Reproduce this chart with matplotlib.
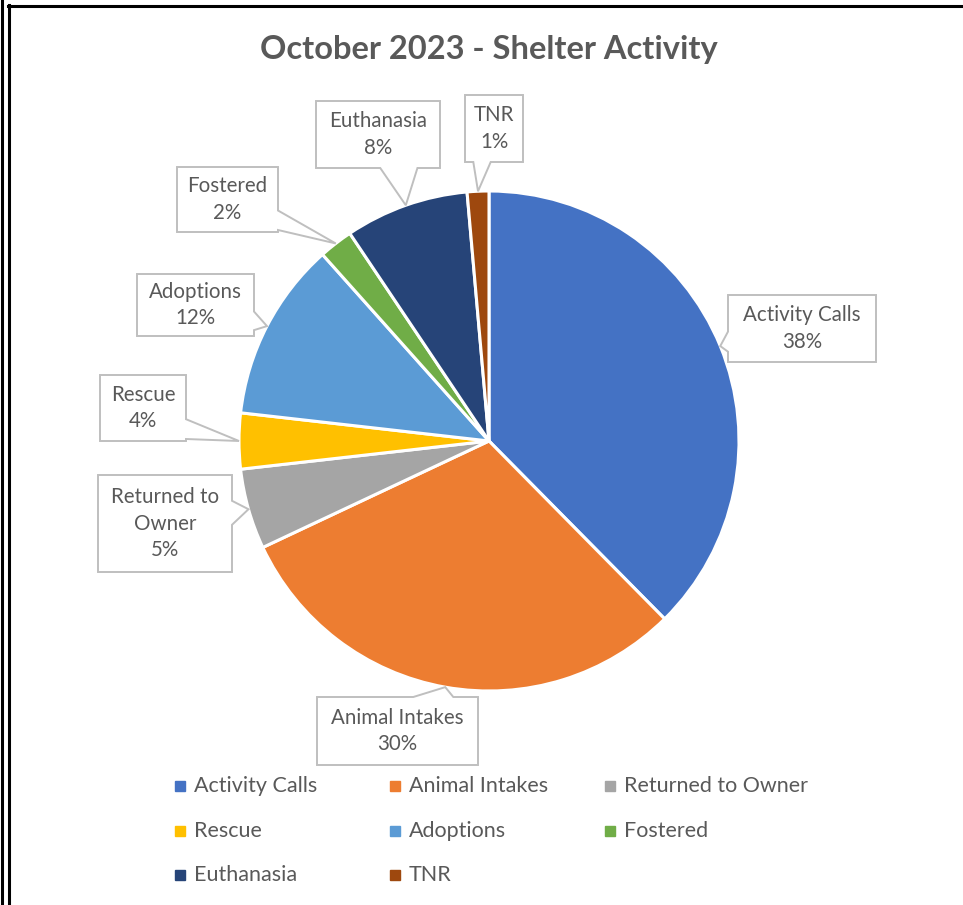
import numpy as np
import matplotlib
matplotlib.use('Agg')
import matplotlib.pyplot as plt
from matplotlib.patches import Polygon
from matplotlib.lines import Line2D

plt.rcParams['font.family'] = ['Lato', 'DejaVu Sans']

# data (share of activity, %)
categories = ['Activity Calls', 'Animal Intakes', 'Returned to Owner', 'Rescue',
              'Adoptions', 'Fostered', 'Euthanasia', 'TNR']
values = [37.6, 30.4, 5.2, 3.6, 11.6, 2.2, 8.0, 1.4]
colors = ['#4472C4', '#ED7D31', '#A5A5A5', '#FFC000',
          '#5B9BD5', '#70AD47', '#264478', '#9E480E']
label_text = ['Activity Calls', 'Animal Intakes', 'Returned to\nOwner', 'Rescue',
              'Adoptions', 'Fostered', 'Euthanasia', 'TNR']

# callout box centres and sizes (pixels, image coords: y down)
box_pos = [(802, 328.5), (397.5, 731), (165, 523.5), (143, 408),
           (195.5, 305), (227.5, 199.5), (378, 134.5), (494, 128.5)]
box_size = [(148, 67), (161, 68), (134, 97), (86, 66),
            (117, 62), (101, 65), (124, 67), (58, 67)]

W, H = 963, 905
fig = plt.figure(figsize=(W / 100, H / 100), dpi=100)
ax = fig.add_axes([0, 0, 1, 1])

cx, cy, R = 489, H - 441, 250
wedges, _ = ax.pie(values, colors=colors, startangle=90, counterclock=False,
                   center=(cx, cy), radius=R, frame=True,
                   wedgeprops=dict(edgecolor='white', linewidth=2.2))
ax.set_xlim(0, W)
ax.set_ylim(0, H)
ax.set_aspect('equal')
ax.axis('off')


def callout(bx, by, bw, bh, tx, ty):
    x0, x1 = bx - bw / 2, bx + bw / 2
    y0, y1 = by - bh / 2, by + bh / 2
    if tx > x1 or tx < x0:
        side = 'right' if tx > x1 else 'left'
        bwid = min(0.3 * bh, 24)
        c = by + 0.75 * (ty - by)
        c = min(max(c, y0 + bwid / 2 + 2), y1 - bwid / 2 - 2)
        if side == 'right':
            pts = [(x0, y0), (x1, y0), (x1, c - bwid / 2), (tx, ty),
                   (x1, c + bwid / 2), (x1, y1), (x0, y1)]
        else:
            pts = [(x0, y0), (x1, y0), (x1, y1), (x0, y1),
                   (x0, c + bwid / 2), (tx, ty), (x0, c - bwid / 2)]
    else:
        side = 'bottom' if ty < y0 else 'top'
        bwid = min(0.3 * bw, 40)
        c = bx + 0.75 * (tx - bx)
        c = min(max(c, x0 + bwid / 2 + 2), x1 - bwid / 2 - 2)
        if side == 'bottom':
            pts = [(x0, y0), (c - bwid / 2, y0), (tx, ty), (c + bwid / 2, y0),
                   (x1, y0), (x1, y1), (x0, y1)]
        else:
            pts = [(x0, y0), (x1, y0), (x1, y1), (c + bwid / 2, y1), (tx, ty),
                   (c - bwid / 2, y1), (x0, y1)]
    ax.add_patch(Polygon(pts, closed=True, facecolor='white', edgecolor='#BFBFBF',
                         linewidth=1.4, zorder=5))


for w, lab, v, (bx, by), (bw, bh) in zip(wedges, label_text, values, box_pos, box_size):
    mid = np.deg2rad((w.theta1 + w.theta2) / 2)
    tx, ty = cx + R * np.cos(mid), cy + R * np.sin(mid)
    callout(bx, H - by, bw, bh, tx, ty)
    ax.text(bx, H - by, f'{lab}\n{round(v):.0f}%', ha='center', va='center',
            fontsize=14.8, color='#595959', linespacing=1.4, zorder=6)

ax.text(cx, H - 50, 'October 2023 - Shelter Activity', ha='center', va='center',
        fontsize=23.5, fontweight='bold', color='#595959')

# legend, 3 per row
for i, (lab, col) in enumerate(zip(categories, colors)):
    lx = 180 + 215 * (i % 3)
    ly = H - (786 + 44.5 * (i // 3))
    ax.plot(lx, ly, marker='s', markersize=6.5, color=col, linestyle='none')
    ax.text(lx + 14, ly, lab, ha='left', va='center', fontsize=15.5, color='#595959')

# outer frame
fig.add_artist(Line2D([1.5, 1.5], [0, H], transform=None, color='black', linewidth=2.2))
fig.add_artist(Line2D([8.5, 8.5], [0, H - 5], transform=None, color='black', linewidth=2.2))
fig.add_artist(Line2D([7.5, W], [H - 6, H - 6], transform=None, color='black', linewidth=2.2))

fig.savefig('out.png', dpi=100, facecolor='white')
